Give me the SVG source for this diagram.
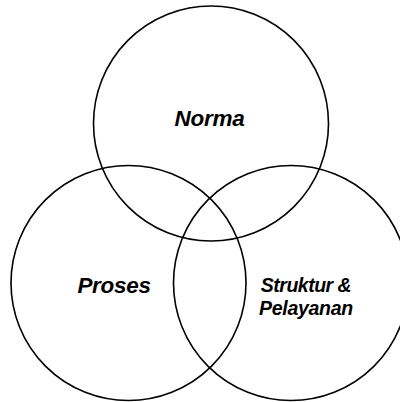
<svg xmlns="http://www.w3.org/2000/svg" width="400" height="402" viewBox="0 0 400 402">
<style>
.c{fill:none;stroke:#000;stroke-width:1.6}
.t{font-family:"Liberation Sans",Arial,sans-serif;font-weight:bold;font-style:italic;fill:#000;text-anchor:middle}
</style>
<rect width="400" height="402" fill="#fff"/>
<g id="norma"><circle class="c" cx="211" cy="123.5" r="117.5"/><text class="t" x="209.5" y="126" font-size="22.5" letter-spacing="-0.3">Norma</text></g>
<g id="proses"><circle class="c" cx="128.5" cy="283" r="117.5"/><text class="t" x="114" y="293" font-size="22.5" letter-spacing="-0.3">Proses</text></g>
<g id="struktur"><circle class="c" cx="291" cy="283" r="117.5"/><text class="t" x="306" y="292" font-size="19.5" letter-spacing="-0.5">Struktur &amp;</text><text class="t" x="306" y="315" font-size="19.5" letter-spacing="-0.3">Pelayanan</text></g>
<g id="connectors"/>
</svg>
